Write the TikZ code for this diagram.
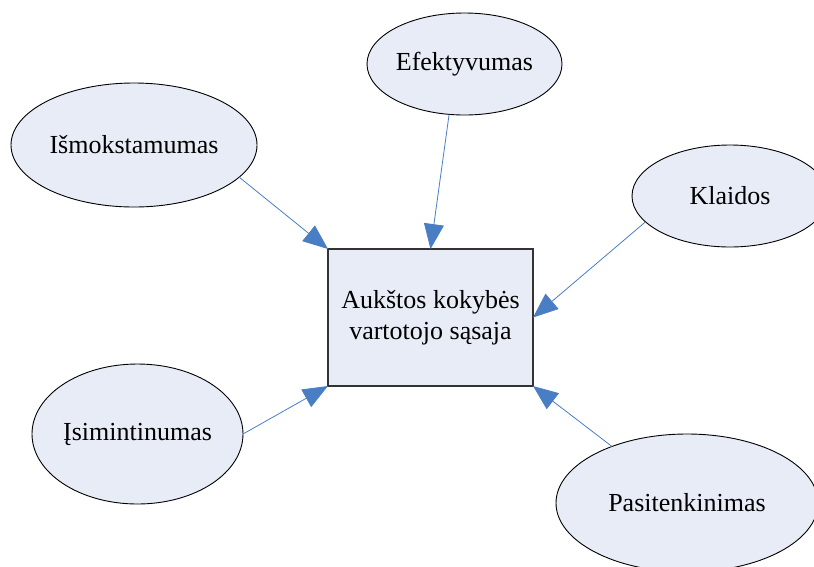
\documentclass[tikz,border=0pt]{standalone}
\usepackage{fontspec}
\setmainfont{Liberation Serif}
\usetikzlibrary{shapes.geometric,arrows.meta}
\definecolor{bubblefill}{RGB}{231,236,246}
\definecolor{linkblue}{RGB}{74,126,196}
\begin{document}
\begin{tikzpicture}[x=1pt,y=-1pt,
  every node/.style={font=\fontsize{26}{31}\selectfont, inner sep=0pt, outer sep=0pt},
  bubble/.style={ellipse, draw=black, line width=0.9pt, fill=bubblefill},
  centre/.style={rectangle, draw=black!80, line width=1.2pt, fill=bubblefill,
    align=center, minimum width=205pt, minimum height=137pt},
  link/.style={draw=linkblue, line width=0.8pt, -{Triangle[length=25pt,width=20pt]}}]
\useasboundingbox (0,0) rectangle (814,566);
\clip (0,0) rectangle (814,566);

% central quality box
\node[centre] (box) at (430.5,317.5) {Aukštos kokybės\\vartotojo sąsaja};

% surrounding attributes
\node[bubble, minimum width=195pt, minimum height=102pt] (efe) at (464.5,64) {Efektyvumas};
\node[bubble, minimum width=246pt, minimum height=124pt] (ism) at (134,145) {Išmokstamumas};
\node[bubble, minimum width=196pt, minimum height=102pt] (kla) at (730,196) {Klaidos};
\node[bubble, minimum width=211pt, minimum height=140pt] (isi) at (137.5,434) {Įsimintinumas};
\node[bubble, minimum width=262pt, minimum height=138pt] (pas) at (687,503) {Pasitenkinimas};

% connectors into the box
\draw[link] (ism.-17) -- (box.north west);
\draw[link] (efe.253) -- (box.north);
\draw[link] (kla.197) -- (box.east);
\draw[link] (isi.0) -- (box.south west);
\draw[link] (pas.143) -- (box.south east);
\end{tikzpicture}
\end{document}
